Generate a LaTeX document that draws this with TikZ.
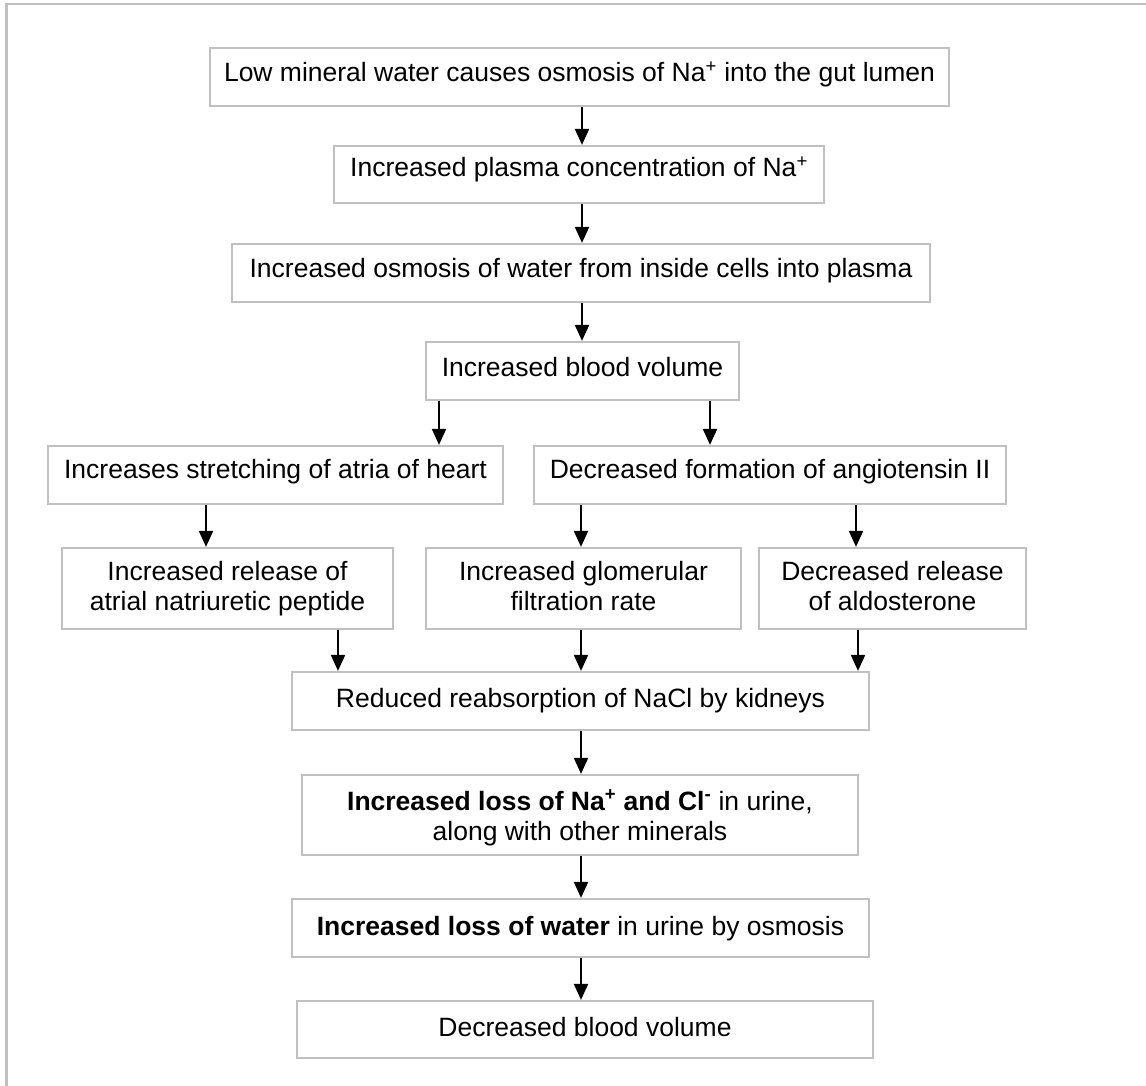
\documentclass[tikz,border=0pt]{standalone}
\usepackage{fontspec}
\setmainfont{Liberation Sans}
\usetikzlibrary{arrows.meta}
\definecolor{boxgray}{RGB}{192,192,192}
\newcommand{\twoline}[2]{\vtop{\baselineskip=30pt\halign{\hfil##\hfil\cr #1\cr #2\cr}}}
\begin{document}
\begin{tikzpicture}[x=1pt,y=-1pt,
  box/.style={draw=boxgray, line width=2.2pt, rectangle, inner sep=0pt,
    font=\fontsize{26.5pt}{30pt}\selectfont, text=black},
  arr/.style={draw=black, line width=2pt, -{Triangle[length=16pt,width=14pt]}},
  frame/.style={draw=boxgray, line width=2.4pt}]
\useasboundingbox (0,0) rectangle (1146,1086);
% outer frame
\coordinate (fbl) at (6.5,1090);
\coordinate (ftl) at (6.5,4);
\coordinate (ftr) at (1150,4);
\draw[frame] (fbl) -- (ftl) -- (ftr);

\node[box, minimum width=739pt, minimum height=58pt, text height=34pt, text depth=24pt] (b1) at (579.5,77)
  {Low mineral water causes osmosis of Na\textsuperscript{+} into the gut lumen};
\node[box, minimum width=490pt, minimum height=57pt, text height=31pt, text depth=26pt] (b2) at (579,174.5)
  {Increased plasma concentration of Na\textsuperscript{+}};
\node[box, minimum width=698pt, minimum height=58pt, text height=33pt, text depth=25pt] (b3) at (581,273)
  {Increased osmosis of water from inside cells into plasma};
\node[box, minimum width=313pt, minimum height=58pt, text height=34pt, text depth=24pt] (b4) at (582.5,371)
  {Increased blood volume};
\node[box, minimum width=455pt, minimum height=58pt, text height=32pt, text depth=26pt] (b5l) at (275.5,475)
  {Increases stretching of atria of heart};
\node[box, minimum width=472pt, minimum height=58pt, text height=32pt, text depth=26pt] (b5r) at (770,475)
  {Decreased formation of angiotensin II};
\node[box, minimum width=331pt, minimum height=81pt, text height=32pt, text depth=49pt] (b6l) at (227.5,588.5)
  {\twoline{Increased release of}{atrial natriuretic peptide}};
\node[box, minimum width=315pt, minimum height=81pt, text height=32pt, text depth=49pt] (b6m) at (583.5,588.5)
  {\twoline{Increased glomerular}{filtration rate}};
\node[box, minimum width=267pt, minimum height=81pt, text height=32pt, text depth=49pt] (b6r) at (892.5,588.5)
  {\twoline{Decreased release}{of aldosterone}};
\node[box, minimum width=577pt, minimum height=58pt, text height=35pt, text depth=23pt] (b7) at (580.5,701)
  {Reduced reabsorption of NaCl by kidneys};
\node[box, minimum width=556pt, minimum height=80pt, text height=35pt, text depth=45pt] (b8) at (580,815)
  {\twoline{\textbf{Increased loss of Na\textsuperscript{+} and Cl\textsuperscript{-}} in urine,}{along with other minerals}};
\node[box, minimum width=577pt, minimum height=58pt, text height=36pt, text depth=22pt] (b9) at (580.5,928)
  {\textbf{Increased loss of water} in urine by osmosis};
\node[box, minimum width=576pt, minimum height=57pt, text height=35pt, text depth=22pt] (b10) at (585,1029.5)
  {Decreased blood volume};

% arrow x-positions
\coordinate (xa) at (582,0);
\coordinate (xl4) at (439,0);
\coordinate (xr4) at (710,0);
\coordinate (xl5) at (206,0);
\coordinate (xm5) at (581,0);
\coordinate (xr5) at (856,0);
\coordinate (xl6) at (338,0);
\coordinate (xr6) at (858,0);

\draw[arr] (b1.south -| xa) -- (b2.north -| xa);
\draw[arr] (b2.south -| xa) -- (b3.north -| xa);
\draw[arr] (b3.south -| xa) -- (b4.north -| xa);
\draw[arr] (b4.south -| xl4) -- (b5l.north -| xl4);
\draw[arr] (b4.south -| xr4) -- (b5r.north -| xr4);
\draw[arr] (b5l.south -| xl5) -- (b6l.north -| xl5);
\draw[arr] (b5r.south -| xm5) -- (b6m.north -| xm5);
\draw[arr] (b5r.south -| xr5) -- (b6r.north -| xr5);
\draw[arr] (b6l.south -| xl6) -- (b7.north -| xl6);
\draw[arr] (b6m.south -| xm5) -- (b7.north -| xm5);
\draw[arr] (b6r.south -| xr6) -- (b7.north -| xr6);
\draw[arr] (b7.south -| xm5) -- (b8.north -| xm5);
\draw[arr] (b8.south -| xm5) -- (b9.north -| xm5);
\draw[arr] (b9.south -| xm5) -- (b10.north -| xm5);
\end{tikzpicture}
\end{document}
